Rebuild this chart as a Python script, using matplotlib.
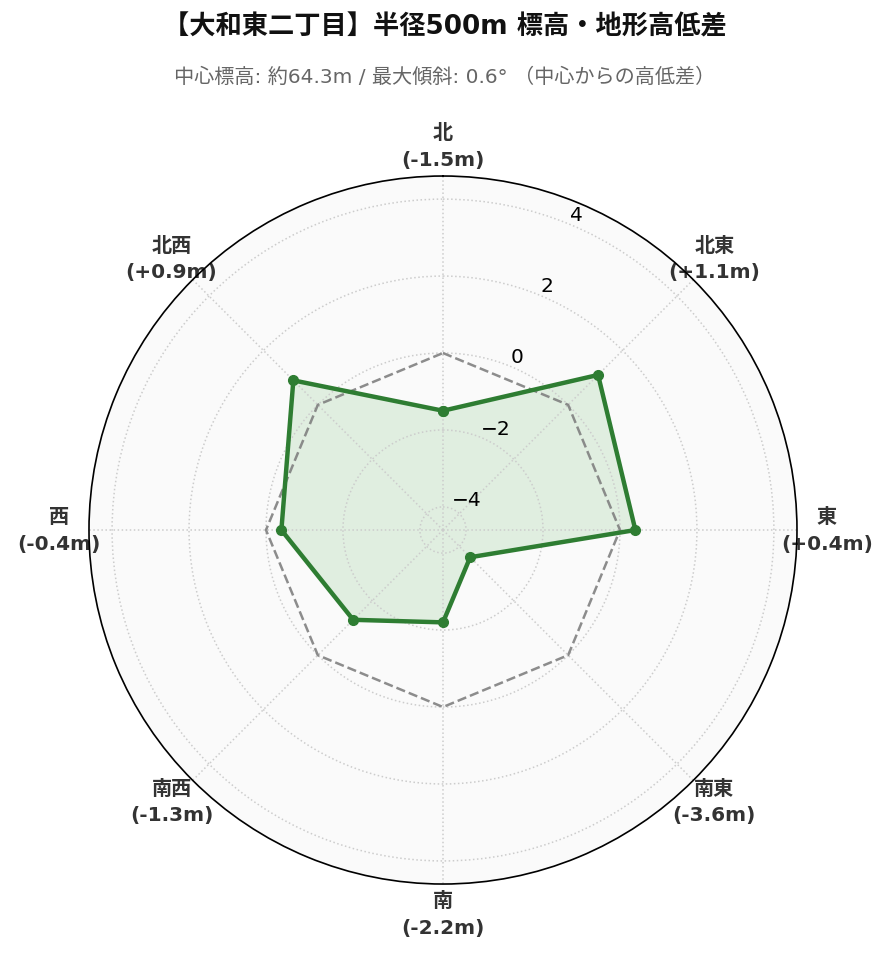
import numpy as np
import matplotlib
matplotlib.use('Agg')
import matplotlib.pyplot as plt

plt.rcParams['font.family'] = ['DejaVu Sans', 'Noto Sans CJK JP']

# 方位と中心からの高低差 (m)
directions = ['北', '北東', '東', '南東', '南', '南西', '西', '北西']
diffs = [-1.5, 1.1, 0.4, -3.6, -2.2, -1.3, -0.4, 0.9]
rticks = [-4, -2, 0, 2, 4]

title = '【大和東二丁目】半径500m 標高・地形高低差'
subtitle = '中心標高: 約64.3m / 最大傾斜: 0.6° （中心からの高低差）'

n = len(directions)
angles = np.linspace(0, 2 * np.pi, n, endpoint=False).tolist()
angles_c = angles + angles[:1]
vals_c = diffs + diffs[:1]
zero_c = [0] * (n + 1)

fig = plt.figure(figsize=(8.89, 9.62), dpi=100)
ax = fig.add_axes([0.1001, 0.080, 0.7964, 0.736], polar=True)
ax.set_facecolor('#fafafa')
ax.set_theta_offset(np.pi / 2)
ax.set_theta_direction(-1)

# 基準線 (0m)
ax.plot(angles_c, zero_c, color='gray', linestyle='--', linewidth=1.8, alpha=0.9)

ax.plot(angles_c, vals_c, color='#2e7d32', linewidth=3.2, marker='o', markersize=7)
ax.fill(angles_c, vals_c, color='#4caf50', alpha=0.15)

lim = max(abs(v) for v in diffs) + 1
ax.set_ylim(-lim, lim)
ax.set_yticks(rticks)
ax.set_yticklabels([f'{t}'.replace('-', '\u2212') for t in rticks], fontsize=14.5)
ax.set_rlabel_position(22.5)

labels = []
for d, v in zip(directions, diffs):
    s = f'+{v:.1f}' if v > 0 else f'{v:.1f}'
    labels.append(f'{d}\n({s}m)')
ax.set_xticks(angles)
ax.set_xticklabels(labels, fontsize=14.5, fontweight='bold', color='#333333',
                   linespacing=1.5)
ax.tick_params(axis='x', pad=11)

ax.grid(True, color='#cccccc', linestyle=':', linewidth=1.1)
ax.spines['polar'].set_color('black')
ax.spines['polar'].set_linewidth(1.2)

fig.text(0.5, 0.971, title, ha='center', va='center', fontsize=18.9, fontweight='bold',
         color='#111111')
fig.text(0.5, 0.92, subtitle, ha='center', va='center', fontsize=14.5, color='#666666')

fig.savefig('out.png', dpi=100, facecolor='white')
